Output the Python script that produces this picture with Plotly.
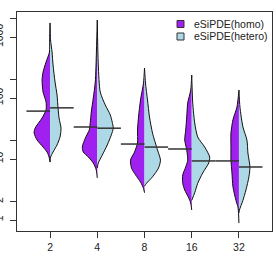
import plotly.graph_objects as go

# ---------------- data ----------------
categories = ["2", "4", "8", "16", "32"]

# density profiles: value levels (top -> bottom) and relative half-widths
homo_levels = [
    [1698, 900, 568, 389, 267, 197, 125, 86, 64, 47, 32, 26.7, 20.5, 15.7, 13.0, 10.8, 8.9],
    [1900, 612, 183, 100, 59, 40, 30, 22, 15.7, 13.0, 10.8, 8.6, 6.6, 4.9],
    [310, 176, 93, 49, 30, 18.3, 13, 9.6, 7.1, 5.5, 4.2, 3.3, 2.8],
    [238, 135, 83, 49, 30, 20.5, 14.1, 9.6, 7.4, 5.5, 4.0, 3.1, 2.3, 1.9, 1.46],
    [135, 71, 44, 26.7, 15.7, 9.6, 5.9, 3.5, 2.1, 1.63, 1.21, 0.89],
]
homo_density = [
    [0, 0.4, 0.6, 4, 7, 8, 7, 4, 4, 8, 15, 16, 13, 7, 3, 1, 0],
    [0, 0.8, 2, 4, 6, 7, 8, 12, 15, 14, 9, 4, 1, 0],
    [0, 1, 4, 6, 7, 7, 10, 14, 13, 9, 4, 1, 0],
    [0, 1, 4, 5, 6, 7, 5, 4, 6, 9, 9, 7, 3, 1, 0],
    [0, 2, 6, 8, 8, 8, 7, 6, 3, 1, 0.3, 0],
]
hetero_levels = [
    [1698, 900, 568, 348, 183, 112, 69, 47, 32, 23, 17, 13, 10.8, 8.9],
    [1900, 348, 125, 77, 53, 40, 32, 24.7, 17, 11.6, 8.6, 7.1],
    [310, 176, 93, 49, 26.7, 14.1, 9.6, 7.1, 5.1, 4.0, 3.6],
    [238, 83, 39, 23, 15.7, 10.8, 8.6, 5.9, 4.0, 2.8, 2.1],
    [135, 71, 33.5, 20.5, 12.5, 7.4, 5.1, 3.1, 2.1, 1.46, 1.30],
]
hetero_density = [
    [0, 0.5, 2, 3, 5, 7, 8, 9, 11, 10, 7, 3, 0.5, 0],
    [0, 1, 3, 8, 13, 15, 16, 14, 10, 5, 1, 0],
    [0, 1, 3, 5, 8, 13, 16, 14, 8, 2, 0],
    [0, 1, 3, 6, 13, 18, 17, 11, 6, 3, 0],
    [0, 1, 4, 8, 9, 11, 10, 7, 4, 0.5, 0],
]
homo_center = [61, 33.5, 17.6, 14.6, 9.3]
hetero_center = [69, 32, 15.7, 9.3, 7.4]

y_tickvals = [1, 2, 10, 20, 100, 200, 1000, 2000]
y_ticktext = ["1", "2", "10", "", "100", "", "1000", ""]
series_names = ["eSiPDE(homo)", "eSiPDE(hetero)"]

# ---------------- style ----------------
PURPLE = "#A020F0"
LIGHTBLUE = "#ADD8E6"
WEX = 1 / 47.3          # density unit -> category units
HALF = 0.5              # half length of the centre lines
FONT = "Liberation Sans, Arial, sans-serif"

fig = go.Figure()

def half_violin(pos, levels, dens, side, color):
    sign = -1 if side == "left" else 1
    xs = [pos + sign * d * WEX for d in dens]
    fig.add_trace(go.Scatter(x=xs, y=levels, mode="lines", fill="toself",
                             fillcolor=color, line=dict(width=0, shape="spline", smoothing=0.7),
                             hoverinfo="skip", showlegend=False))
    fig.add_trace(go.Scatter(x=xs, y=levels, mode="lines",
                             line=dict(color="#111111", width=1, shape="spline", smoothing=0.7),
                             hoverinfo="skip", showlegend=False))

for i in range(len(categories)):
    pos = i + 1
    half_violin(pos, homo_levels[i], homo_density[i], "left", PURPLE)
    half_violin(pos, hetero_levels[i], hetero_density[i], "right", LIGHTBLUE)

for i in range(len(categories)):
    pos = i + 1
    fig.add_trace(go.Scatter(x=[pos - HALF, pos], y=[homo_center[i]] * 2, mode="lines",
                             line=dict(color="#333333", width=1.5), hoverinfo="skip", showlegend=False))
    fig.add_trace(go.Scatter(x=[pos, pos + HALF], y=[hetero_center[i]] * 2, mode="lines",
                             line=dict(color="#333333", width=1.5), hoverinfo="skip", showlegend=False))

# legend (drawn manually, R style)
W, H = 276, 259
ml, mr, mt, mb = 17, 4, 12, 28
pw, ph = W - ml - mr, H - mt - mb
def px_x(x): return (x - ml) / pw
def px_y(y): return 1 - (y - mt) / ph

legend_colors = [PURPLE, LIGHTBLUE]
for k, (name, col) in enumerate(zip(series_names, legend_colors)):
    yc = 24 + k * 12.5
    fig.add_shape(type="rect", xref="paper", yref="paper",
                  x0=px_x(177), x1=px_x(184), y0=px_y(yc + 3.5), y1=px_y(yc - 3.5),
                  fillcolor=col, line=dict(color="#333333", width=1))
    fig.add_annotation(xref="paper", yref="paper", x=px_x(192), y=px_y(yc),
                       text=name, showarrow=False, xanchor="left", yanchor="middle",
                       font=dict(family=FONT, size=10.5, color="#222222"))

axis_common = dict(showline=True, linecolor="#333333", linewidth=1, mirror=True,
                   ticks="outside", ticklen=6, tickcolor="#333333", tickwidth=1,
                   showgrid=False, zeroline=False, automargin=False,
                   tickfont=dict(family=FONT, size=10.5, color="#222222"))

fig.update_layout(
    width=W, height=H,
    margin=dict(l=ml, r=mr, t=mt, b=mb),
    paper_bgcolor="white", plot_bgcolor="white",
    showlegend=False,
    xaxis=dict(range=[0.3, 5.7], tickvals=[1, 2, 3, 4, 5], ticktext=categories, **axis_common),
    yaxis=dict(type="log", range=[-0.18, 3.41], tickvals=y_tickvals, ticktext=y_ticktext,
               tickangle=-90, ticklabelstandoff=3, **axis_common),
)

fig.write_html("out.html")
